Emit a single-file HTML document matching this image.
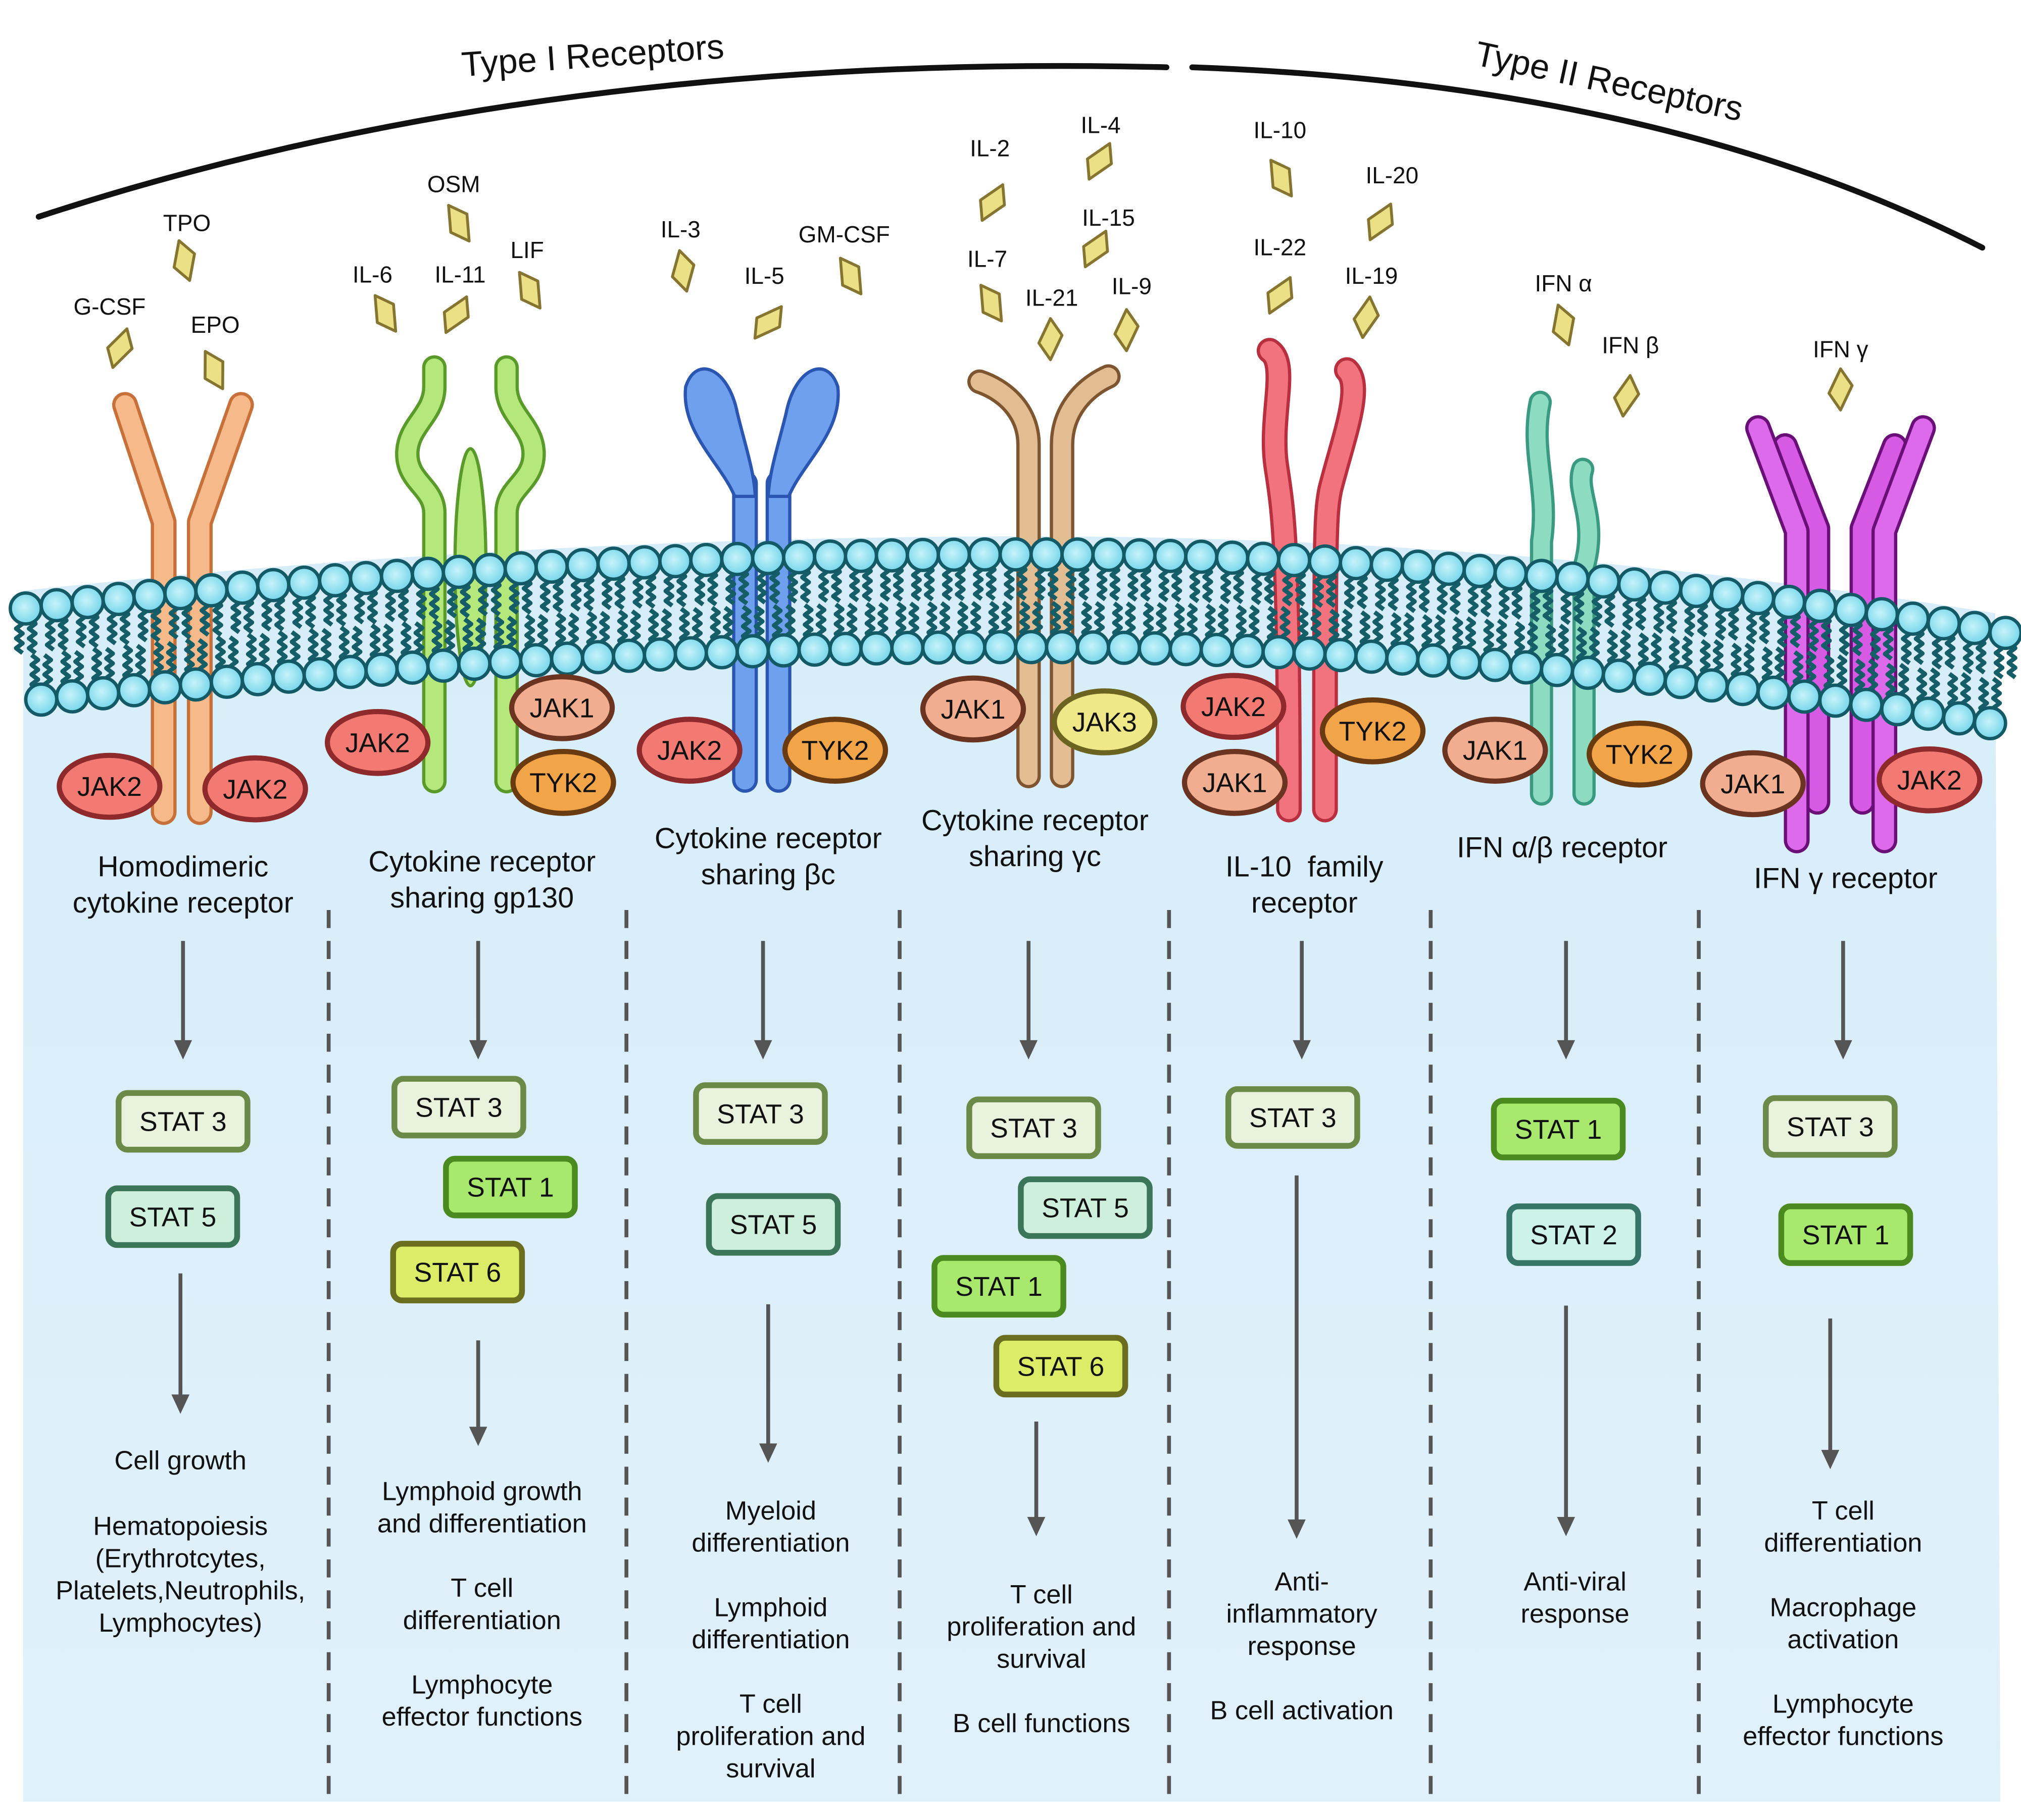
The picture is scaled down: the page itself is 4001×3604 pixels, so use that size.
<!DOCTYPE html>
<html><head><meta charset="utf-8"><style>
html,body{margin:0;padding:0;background:#fff;}
svg{display:block;}
text{font-family:"Liberation Sans",sans-serif;fill:#111;}
</style></head><body>
<svg id="s" width="4001" height="3604" viewBox="0 0 1568 1412" xmlns="http://www.w3.org/2000/svg">
<defs>
<linearGradient id="bg" x1="0" y1="0" x2="0" y2="1"><stop offset="0" stop-color="#d6edf9"/><stop offset="1" stop-color="#e1f1fb"/></linearGradient>
<radialGradient id="hd" cx="0.45" cy="0.45" r="0.6"><stop offset="0" stop-color="#c6f3fb"/><stop offset="1" stop-color="#6fd3e8"/></radialGradient>
</defs>
<rect width="1568" height="1412" fill="#fff"/>
<path id="cyto" fill="url(#bg)"/>
<path d="M30,168 Q420,40 905,52" fill="none" stroke="#111" stroke-width="4.5" stroke-linecap="round"/>
<path d="M925,52 Q1290,65 1538,192" fill="none" stroke="#111" stroke-width="4.5" stroke-linecap="round"/>
<text x="460" y="52" font-size="27" text-anchor="middle" transform="rotate(-4 460 45)">Type I Receptors</text>
<text x="1248" y="72" font-size="27" text-anchor="middle" transform="rotate(12 1248 65)">Type II Receptors</text>
<g id="recs"></g>
<g id="mem"></g>
<g id="jaks"></g>
<g id="rest"></g>
</svg>
<script>
const NS="http://www.w3.org/2000/svg";
function el(p,tag,a,txt){const e=document.createElementNS(NS,tag);for(const k in a)e.setAttribute(k,a[k]);if(txt!==undefined)e.textContent=txt;p.appendChild(e);return e;}
const recs=document.getElementById('recs'),mem=document.getElementById('mem'),jaks=document.getElementById('jaks'),rest=document.getElementById('rest');
function yTop(x){
  if(x<800){const t=(800-x)/780;return 430+42*t*t;}
  const t=(x-800)/750;return 430+60*t*t;}
let d="M18,"+(yTop(18)-10);
for(let x=18;x<=1552;x+=10)d+=" L"+x+","+(yTop(x)-14);
d+=" L1552,1398 L18,1398 Z";
document.getElementById('cyto').setAttribute('d',d);
function tube(path,fill,stroke,w){el(recs,'path',{d:path,fill:'none',stroke:stroke,'stroke-width':w+5,'stroke-linejoin':'round','stroke-linecap':'round'});
 el(recs,'path',{d:path,fill:'none',stroke:fill,'stroke-width':w,'stroke-linejoin':'round','stroke-linecap':'round'});}
tube("M97,314 L127,405 L127,630","#f6b98a","#c8703a",15);
tube("M187,314 L155,405 L155,630","#f6b98a","#c8703a",15);
el(recs,'ellipse',{cx:365,cy:440,rx:12,ry:92,fill:'#b5e87a',stroke:'#5a9a2a','stroke-width':2.5});
tube("M337,285 L337,300 C337,322 316,330 316,352 C316,374 337,378 337,398 L337,606","#b5e87a","#5a9a2a",14);
tube("M393,285 L393,300 C393,322 414,330 414,352 C414,374 393,378 393,398 L393,606","#b5e87a","#5a9a2a",14);
tube("M578,375 L578,605","#6fa0ee","#2a55b0",15);
tube("M604,375 L604,605","#6fa0ee","#2a55b0",15);
el(recs,'path',{d:"M532,300 C540,275 565,285 572,320 C578,345 585,365 586,385 L570,385 C560,360 528,335 532,300 Z",fill:'#6fa0ee',stroke:'#2a55b0','stroke-width':2.5});
el(recs,'path',{d:"M650,300 C642,275 617,285 610,320 C604,345 597,365 596,385 L612,385 C622,360 654,335 650,300 Z",fill:'#6fa0ee',stroke:'#2a55b0','stroke-width':2.5});
tube("M760,296 C778,302 798,318 798,345 L798,602","#e2bd93","#7d5530",14);
tube("M860,292 C842,300 824,318 824,345 L824,602","#e2bd93","#7d5530",14);
tube("M985,272 C1000,282 985,322 990,360 C995,395 1000,410 1000,628","#f2727e","#b8303f",15);
tube("M1045,287 C1058,300 1042,340 1032,380 C1028,400 1028,420 1028,628","#f2727e","#b8303f",15);
tube("M1195,312 C1187,350 1202,380 1196,420 L1196,616","#8ddcc2","#3a9a80",13);
tube("M1228,364 C1222,382 1240,402 1229,440 L1229,616","#8ddcc2","#3a9a80",13);
tube("M1385,346 L1410,410 L1410,622","#d65ae3","#6a0f78",15);
tube("M1470,346 L1445,410 L1445,622","#d65ae3","#6a0f78",15);
tube("M1364,332 L1394,412 L1394,652","#dd6aea","#6a0f78",15);
tube("M1492,332 L1462,412 L1462,652","#dd6aea","#6a0f78",15);
const sp=24,r=12;
let tails="";
for(let x=20;x<=1556;x+=sp){
  const yt=yTop(x);
  for(const off of [-5,5]){
   let p="M"+(x+off)+","+(yt+8);
   for(let i=1;i<=7;i++){p+=" L"+(x+off+(i%2?2.5:-2.5))+","+(yt+8+i*3.8);}
   tails+=p+" ";
  }
}
for(let x=20+sp/2;x<=1556;x+=sp){
  const yb=yTop(x)+72;
  for(const off of [-5,5]){
   let p="M"+(x+off)+","+(yb-8);
   for(let i=1;i<=7;i++){p+=" L"+(x+off+(i%2?-2.5:2.5))+","+(yb-8-i*3.8);}
   tails+=p+" ";
  }
}
el(mem,'path',{d:tails,fill:'none',stroke:'#155e68','stroke-width':3.4,'stroke-linejoin':'round'});
for(let x=20;x<=1556;x+=sp){
  el(mem,'circle',{cx:x,cy:yTop(x),r:r,fill:'url(#hd)',stroke:'#135a66','stroke-width':2.6});
}
for(let x=20+sp/2;x<=1556;x+=sp){
  el(mem,'circle',{cx:x,cy:yTop(x)+72,r:r,fill:'url(#hd)',stroke:'#135a66','stroke-width':2.6});
}
const JC={JAK2:['#f27a72','#8e2a2c'],JAK1:['#f1ad90','#6a3420'],TYK2:['#f2a448','#6a3a10'],JAK3:['#eee888','#6a6420']};
[["JAK2",85,610],["JAK2",198,612],["JAK2",293,576],["JAK1",436,549],["TYK2",437,607],["JAK2",535,582],["TYK2",648,582],
 ["JAK1",755,550],["JAK3",857,560],["JAK2",957,548],["JAK1",958,607],["TYK2",1065,567],["JAK1",1160,582],["TYK2",1272,585],
 ["JAK1",1360,608],["JAK2",1497,605]].forEach(([n,x,y])=>{
  el(jaks,'ellipse',{cx:x,cy:y,rx:39,ry:24,fill:JC[n][0],stroke:JC[n][1],'stroke-width':4});
  el(jaks,'text',{x:x,y:y+7.5,'font-size':21,'text-anchor':'middle'},n);
});
[["G-CSF",85,238,93,270,20],["TPO",145,173,143,202,-15],["EPO",167,252,166,287,-25],["IL-6",289,213,299,243,-30],["IL-11",357,213,354,244,30],
 ["OSM",352,143,356,173,-30],["LIF",409,194,411,225,-30],["IL-3",528,178,530,210,-10],["IL-5",593,214,596,250,40],["GM-CSF",655,182,660,214,-30],
 ["IL-2",768,115,770,157,30],["IL-4",854,97,853,125,30],["IL-15",860,169,850,193,30],["IL-7",766,201,769,235,-30],["IL-21",816,231,815,263,0],
 ["IL-9",878,222,874,256,0],["IL-10",993,101,994,138,-30],["IL-20",1080,136,1071,172,30],["IL-22",993,192,993,229,30],["IL-19",1064,214,1060,246,10],
 ["IFN α",1213,220,1213,252,-15],["IFN β",1265,268,1262,307,10],["IFN γ",1428,271,1428,302,0]].forEach(([n,lx,ly,dx,dy,rot])=>{
  el(rest,'text',{x:lx,y:ly+6,'font-size':18,'text-anchor':'middle'},n);
  el(rest,'polygon',{points:"0,-16 9,-3 0,16 -9,3",fill:'#ece086',stroke:'#857530','stroke-width':2.2,'stroke-linejoin':'round',transform:`translate(${dx} ${dy}) rotate(${rot})`});
});
[[142,["Homodimeric","cytokine receptor"],672],[374,["Cytokine receptor","sharing gp130"],668],[596,["Cytokine receptor","sharing βc"],650],
 [803,["Cytokine receptor","sharing γc"],636],[1012,["IL-10\u00a0 family","receptor"],672],[1212,["IFN α/β receptor"],657],[1432,["IFN γ receptor"],681]]
.forEach(([x,ls,y])=>ls.forEach((l,i)=>el(rest,'text',{x:x,y:y+8+i*28,'font-size':22.5,'text-anchor':'middle'},l)));
[255,486,698,907,1110,1318].forEach(x=>el(rest,'line',{x1:x,y1:706,x2:x,y2:1395,stroke:'#555','stroke-width':3,'stroke-dasharray':'14 10'}));
function arrow(x,y1,y2){el(rest,'line',{x1:x,y1:y1,x2:x,y2:y2-12,stroke:'#555','stroke-width':3});
 el(rest,'path',{d:`M${x-7},${y2-15} L${x+7},${y2-15} L${x},${y2} Z`,fill:'#555'});}
[[142,730,822],[140,988,1097],[371,730,822],[371,1040,1122],[592,730,822],[596,1012,1135],[798,730,822],[804,1103,1192],
 [1010,730,822],[1006,912,1194],[1215,730,822],[1215,1013,1192],[1430,730,822],[1420,1023,1140]].forEach(a=>arrow(...a));
const SC={"STAT 3":['#e8f2dc','#6b8a48'],"STAT 5":['#cdefdb','#3b7658'],"STAT 1":['#a8e86c','#4a8a1e'],"STAT 6":['#dcec66','#6a6e1e'],"STAT 2":['#cdf2e8','#367668']};
[["STAT 3",142,870],["STAT 5",134,944],["STAT 3",356,859],["STAT 1",396,921],["STAT 6",355,987],["STAT 3",590,864],["STAT 5",600,950],
 ["STAT 3",802,875],["STAT 5",842,937],["STAT 1",775,998],["STAT 6",823,1060],["STAT 3",1003,867],["STAT 1",1209,876],["STAT 2",1221,958],
 ["STAT 3",1420,874],["STAT 1",1432,958]].forEach(([n,x,y])=>{
  el(rest,'rect',{x:x-50,y:y-22,width:100,height:44,rx:7,fill:SC[n][0],stroke:SC[n][1],'stroke-width':4.5});
  el(rest,'text',{x:x,y:y+7.5,'font-size':21,'text-anchor':'middle'},n);
});
[[140,[["Cell growth",1133],["Hematopoiesis",1184],["(Erythrotcytes,",1209],["Platelets,Neutrophils,",1234],["Lymphocytes)",1259]]],
 [374,[["Lymphoid growth",1157],["and differentiation",1182],["T cell",1232],["differentiation",1257],["Lymphocyte",1307],["effector functions",1332]]],
 [598,[["Myeloid",1172],["differentiation",1197],["Lymphoid",1247],["differentiation",1272],["T cell",1322],["proliferation and",1347],["survival",1372]]],
 [808,[["T cell",1237],["proliferation and",1262],["survival",1287],["B cell functions",1337]]],
 [1010,[["Anti-",1227],["inflammatory",1252],["response",1277],["B cell activation",1327]]],
 [1222,[["Anti-viral",1227],["response",1252]]],
 [1430,[["T cell",1172],["differentiation",1197],["Macrophage",1247],["activation",1272],["Lymphocyte",1322],["effector functions",1347]]]]
.forEach(([x,ls])=>ls.forEach(([t,y])=>el(rest,'text',{x:x,y:y+7,'font-size':20.5,'text-anchor':'middle'},t)));
</script>
</body></html>
